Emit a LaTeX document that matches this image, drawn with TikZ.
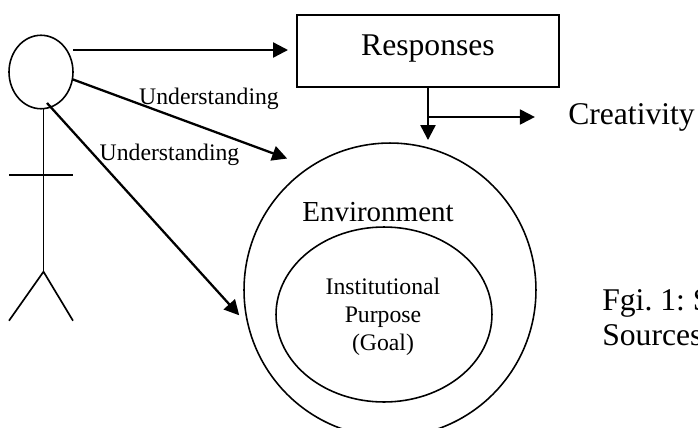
\documentclass[tikz,border=0pt]{standalone}
\usepackage{fontspec}
\setmainfont{Liberation Serif}
\usetikzlibrary{arrows.meta,shapes.geometric}
\frenchspacing

\begin{document}
\begin{tikzpicture}[x=0.02cm,y=-0.02cm]
            \tikzset{bigtext/.style = {font=\fontsize{18}{21}\selectfont,inner sep=0pt}}
            \tikzset{smalltext/.style = {font=\fontsize{13.5}{16}\selectfont,inner sep=0pt}}
            \tikzset{circ/.style = {shape=ellipse,draw,inner sep=0pt,outer sep=0pt,line width=0.9pt}}
            \tikzset{edge/.style = {-{Triangle[length=8.5pt,width=8.5pt]},line width=1.3pt}}
            \tikzset{limb/.style = {line width=0.95pt}}
            \useasboundingbox (0,0) rectangle (698,427);
            % vertices
            \node[circ, minimum width=1.28cm, minimum height=1.47cm] (head) at (41,72) {};
            \node[draw, inner sep=0pt, outer sep=0pt, line width=1.15pt, minimum width=5.24cm, minimum height=1.44cm] (responses) at (428,51) {};
            \node[bigtext, anchor=base] (responsestext) at (428,55) {Responses};
            \node[circ, minimum width=5.84cm, minimum height=5.88cm] (environment) at (390,290) {};
            \node[circ, minimum width=4.32cm, minimum height=3.5cm] (purpose) at (384,314.5) {};
            \node[inner sep=0pt, font=\fontsize{16.5}{20}\selectfont, anchor=base] (environmenttext) at (378,221) {Environment};
            \node[smalltext, align=center] (purposetext) at (383,317) {Institutional\\Purpose\\(Goal)};
            \node[bigtext, anchor=base] (creativity) at (631.5,124.7) {Creativity};
            \node[smalltext, anchor=base] (understanding1) at (209,104) {Understanding};
            \node[smalltext, anchor=base] (understanding2) at (169.5,160) {Understanding};
            \node[bigtext, anchor=base west] (caption1) at (602,310) {Fgi. 1: S};
            \node[bigtext, anchor=base west] (caption2) at (602,345) {Sources};
            % figure
            \coordinate (neck) at (43.5,108.5);
            \coordinate (hip) at (43.5,271.7);
            \coordinate (armleft) at (9,175);
            \coordinate (armright) at (73,175);
            \coordinate (footleft) at (9,320.7);
            \coordinate (footright) at (73,320.7);
            \draw[limb] (neck) -- (hip);
            \draw[limb] (armleft) -- (armright);
            \draw[limb] (footleft) -- (hip) -- (footright);
            % edges
            \coordinate (headout) at (73,50);
            \coordinate (headlow) at (47,103);
            \coordinate (branch) at (428,117);
            \draw[edge, shorten >=0.18cm] (headout) -- (responses.west |- headout);
            \draw[edge, shorten >=0.49cm] (head.-13) -- (environment.123);
            \draw[edge, shorten >=0.27cm] (headlow) -- (environment.194);
            \draw[edge, shorten >=0.06cm] (responses.south) -- (responses.south |- environment.north);
            \draw[edge, line width=1.1pt, shorten >=0.66cm] (branch) -- (branch -| creativity.west);
        \end{tikzpicture}
\end{document}
